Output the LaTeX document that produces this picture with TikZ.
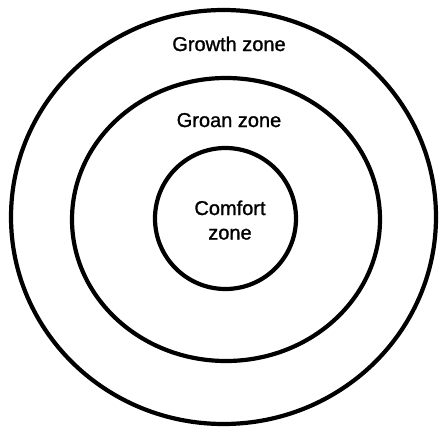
\documentclass[tikz,border=0pt]{standalone}
\usepackage{fontspec}
\setmainfont{Liberation Sans}[BoldFont=Liberation Sans,BoldFeatures={FakeBold=1.2}]
\begin{document}
\begin{tikzpicture}[x=1pt,y=-1pt,
  ring/.style={draw=black,line width=4.2pt},
  lbl/.style={font=\fontsize{20}{25}\selectfont\bfseries,anchor=base,inner sep=0pt}]
\useasboundingbox (0,0) rectangle (440,429);
\draw[ring] (223.5,217) ellipse [x radius=212.5,y radius=207];
\draw[ring] (226,219.5) ellipse [x radius=154,y radius=141.5];
\draw[ring] (225.5,218.5) ellipse [x radius=70.5,y radius=70.5];
\node[lbl] (growth) at (229,51) {Growth zone};
\node[lbl] (groan) at (229,127) {Groan zone};
\node[lbl] (comfort1) at (230,215) {Comfort};
\node[lbl] (comfort2) at (230,239.5) {zone};
\end{tikzpicture}
\end{document}
